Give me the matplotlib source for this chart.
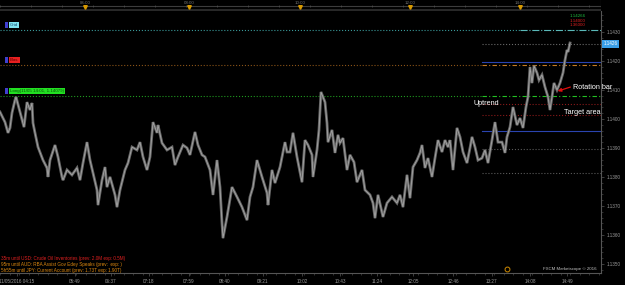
import matplotlib.pyplot as plt
from matplotlib.ticker import MultipleLocator, FormatStrFormatter

plt.rcParams['font.family'] = ['Liberation Sans', 'DejaVu Sans']

# price path (bar index, price)
bars = [0, 3, 5, 8, 10, 12, 15, 16, 20, 24, 27, 30, 32, 33, 35, 38, 43, 47, 48, 50,
        55, 58, 62, 63, 67, 72, 77, 80, 83, 87, 90, 93, 97, 98, 102, 105, 107, 110, 115, 117,
        120, 125, 128, 132, 137, 140, 143, 147, 150, 153, 157, 158, 162, 167, 172, 175, 178, 183, 187, 190,
        195, 198, 202, 205, 210, 213, 217, 220, 222, 223, 227, 232, 237, 242, 247, 250, 253, 257, 262, 267,
        268, 272, 275, 280, 285, 287, 290, 293, 297, 302, 305, 308, 312, 313, 317, 319, 321, 325, 327, 328,
        332, 335, 338, 340, 343, 347, 350, 354, 357, 362, 365, 370, 373, 375, 378, 383, 387, 392, 397, 400,
        403, 407, 410, 413, 417, 420, 422, 425, 428, 432, 435, 438, 442, 445, 448, 450, 453, 457, 460, 463,
        467, 470, 472, 475, 478, 482, 485, 488, 492, 495, 498, 502, 505, 507, 510, 513, 517, 520, 523, 526,
        528, 530, 532, 534, 537, 539, 542, 545, 548, 550, 552, 554, 557, 560, 563, 565, 567, 568, 570]
prices = [1.14024, 1.14003, 1.13989, 1.13952, 1.13969, 1.14021, 1.14065, 1.14076, 1.14024, 1.13972,
          1.14058, 1.14031, 1.14055, 1.13986, 1.13952, 1.13903, 1.13858, 1.13831, 1.13800, 1.13858,
          1.13910, 1.13869, 1.13800, 1.13789, 1.13824, 1.13807, 1.13831, 1.13789, 1.13848, 1.13920,
          1.13858, 1.13814, 1.13755, 1.13703, 1.13789, 1.13834, 1.13765, 1.13800, 1.13738, 1.13696,
          1.13755, 1.13824, 1.13848, 1.13903, 1.13893, 1.13920, 1.13869, 1.13824, 1.13869, 1.13989,
          1.13952, 1.13979, 1.13917, 1.13893, 1.13903, 1.13841, 1.13869, 1.13910, 1.13900, 1.13876,
          1.13955, 1.13910, 1.13876, 1.13869, 1.13824, 1.13738, 1.13858, 1.13765, 1.13641, 1.13589,
          1.13662, 1.13765, 1.13731, 1.13696, 1.13651, 1.13731, 1.13765, 1.13858, 1.13800, 1.13745,
          1.13703, 1.13824, 1.13779, 1.13834, 1.13920, 1.13886, 1.13886, 1.13952, 1.13869, 1.13782,
          1.13927, 1.13910, 1.13876, 1.13800, 1.13893, 1.13962, 1.14093, 1.14058, 1.13986, 1.13920,
          1.13962, 1.13883, 1.13945, 1.13917, 1.13934, 1.13824, 1.13876, 1.13851, 1.13782, 1.13824,
          1.13755, 1.13738, 1.13710, 1.13658, 1.13738, 1.13662, 1.13710, 1.13731, 1.13710, 1.13738,
          1.13696, 1.13807, 1.13727, 1.13834, 1.13858, 1.13883, 1.13910, 1.13831, 1.13865, 1.13800,
          1.13865, 1.13927, 1.13886, 1.13927, 1.13903, 1.13927, 1.13824, 1.13969, 1.13938, 1.13886,
          1.13848, 1.13900, 1.13938, 1.13903, 1.13858, 1.13865, 1.13893, 1.13848, 1.13927, 1.13989,
          1.13920, 1.13920, 1.13883, 1.13938, 1.13972, 1.14041, 1.13979, 1.14003, 1.13969, 1.14041,
          1.14076, 1.14179, 1.14124, 1.14183, 1.14159, 1.14134, 1.14152, 1.14110, 1.14076, 1.14031,
          1.14076, 1.14124, 1.14100, 1.14124, 1.14159, 1.14203, 1.14238, 1.14231, 1.14262]

bottom_ticks = [17, 75, 111, 149, 189, 225, 263, 302, 340, 377, 413, 453, 492, 530, 567]
bottom_labels = ['11/05/2016 04:15', '05:49', '06:37', '07:18', '07:59', '08:40', '09:21', '10:02',
                 '10:43', '11:24', '12:05', '12:46', '13:27', '14:08', '14:49']
top_ticks = [85, 189, 300, 410, 520]
top_labels = ['06:00', '08:00', '10:00', '12:00', '14:00']

# long horizontal levels (full width)
grid_level = 1.14307
bias_level = 1.14186
long_level = 1.14079
# short levels on the right side
right_levels = [1.14259, 1.14196, 1.14052, 1.14014, 1.13958, 1.13896, 1.13814]
right_colors = ['#6a6a6a', '#2a44b0', '#8a1a1a', '#8a1a1a', '#2a44b0', '#5a5a5a', '#5a5a5a']
right_styles = [':', '-', ':', ':', '-', ':', ':']
last_price = 1.14259

news = ['35m until USD: Crude Oil Inventories (prev: 2.0M exp: 0.5M)',
        '95m until AUD: RBA Assist Gov Edey Speaks (prev:  exp: )',
        '5h55m until JPY: Current Account (prev: 1.73T exp: 1.90T)']
news_colors = ['#e02020', '#e08a10', '#e08a10']

fig = plt.figure(figsize=(6.25, 2.85), dpi=100, facecolor='black')
ax = fig.add_axes([0, 12 / 285, 601 / 625, 262 / 285], facecolor='black')
top = fig.add_axes([0, 274 / 285, 601 / 625, 11 / 285], facecolor='black')

ax.set_xlim(0, 601)
ax.set_ylim(1.134686, 1.143724)

# levels
ax.plot([0, 520], [grid_level] * 2, color='#3a9a9a', ls=':', lw=0.8)
ax.plot([520, 601], [grid_level] * 2, color='#5ab8b8', ls='-.', lw=0.8)
ax.plot([0, 482], [bias_level] * 2, color='#8a5418', ls=':', lw=0.8)
ax.plot([482, 601], [bias_level] * 2, color='#c87a20', ls=(0, (4, 2, 1, 2)), lw=0.8)
ax.plot([0, 482], [long_level] * 2, color='#1f9a1f', ls=':', lw=0.8)
ax.plot([482, 601], [long_level] * 2, color='#22c022', ls=(0, (4, 2, 1, 2)), lw=0.8)
for lvl, c, s in zip(right_levels, right_colors, right_styles):
    ax.plot([482, 601], [lvl, lvl], color=c, ls=s, lw=0.8)

# dense tick band: darker wide stroke with a lighter core
ax.plot(bars, prices, color='#666666', lw=2.0, solid_joinstyle='miter')
ax.plot(bars, prices, color='#a6a6a6', lw=0.6)

# level tags
for lvl, txt, fc, tc in [(grid_level, 'Grid', '#7fe3ef', '#1a4a70'),
                         (bias_level, 'Bias', '#e82020', '#5a0000'),
                         (long_level, 'Long(11/05 14:01, 1.14079)', '#22e022', '#0a4a0a')]:
    ax.annotate(txt, xy=(10, lvl), xytext=(0, 3.6), textcoords='offset points',
                fontsize=3.2, color=tc, va='center', ha='left',
                bbox=dict(boxstyle='square,pad=0.25', fc=fc, ec='none'))
    ax.annotate(' ', xy=(6, lvl), xytext=(0, 3.6), textcoords='offset points',
                fontsize=3.2, va='center', ha='left',
                bbox=dict(boxstyle='square,pad=0.25', fc='#4040d0', ec='none'))

# annotations
ax.annotate('', xy=(555, 1.14093), xytext=(573, 1.14113),
            arrowprops=dict(arrowstyle='-|>', color='#e01010', lw=0.9, mutation_scale=5))
ax.text(573, 1.14110, 'Rotation bar', color='white', fontsize=5.2, va='center', ha='left',
        zorder=5)
ax.text(474, 1.14052, 'Uptrend', color='white', fontsize=5.2, va='center', ha='left')
ax.text(564, 1.14021, 'Target area', color='white', fontsize=5.2, va='center', ha='left')

ax.text(570, 1.14355, '1.14266', color='#20c040', fontsize=3.2, va='center')
ax.text(570, 1.14338, '1.14000', color='#e02020', fontsize=3.2, va='center')
ax.text(570, 1.14324, '1.36000', color='#e02020', fontsize=3.2, va='center')

ax.annotate('%.4f' % last_price, xy=(1, last_price), xycoords=('axes fraction', 'data'),
            xytext=(2, 0), textcoords='offset points', fontsize=3.3, color='white',
            va='center', ha='left', annotation_clip=False,
            bbox=dict(boxstyle='square,pad=0.3', fc='#3a9fe8', ec='none'))

for i, (t, c) in enumerate(zip(news, news_colors)):
    ax.text(0.002, 0.057 - i * 0.023, t, transform=ax.transAxes, color=c,
            fontsize=3.3, va='center', ha='left')
ax.text(597, 1.13482, 'FXCM Marketscope \u00a9 2016', color='#c0c0c0', fontsize=3.2,
        va='center', ha='right')
ax.plot([507], [1.13482], marker='o', ms=3.5, mfc='none', mec='#d08a00', mew=0.7)

# axes styling
for s in ['left', 'top']:
    ax.spines[s].set_visible(False)
ax.spines['right'].set_color('#555555')
ax.spines['bottom'].set_color('#555555')
ax.spines['right'].set_linewidth(0.8)
ax.spines['bottom'].set_linewidth(0.8)
ax.yaxis.tick_right()
ax.yaxis.set_major_locator(MultipleLocator(0.001))
ax.yaxis.set_minor_locator(MultipleLocator(0.0002))
ax.yaxis.set_major_formatter(FormatStrFormatter('%.4f'))
ax.set_xticks(bottom_ticks)
ax.set_xticklabels(bottom_labels)
ax.xaxis.set_minor_locator(MultipleLocator(9.5))
ax.tick_params(axis='both', which='major', labelsize=3.3, colors='#555555',
               labelcolor='#9a9a9a', length=2.5, width=0.5, pad=1.5)
ax.tick_params(axis='both', which='minor', colors='#555555', length=1.3, width=0.4)

# top time bar
top.set_xlim(0, 601)
top.set_ylim(11, 0)
top.axis('off')
top.axhline(6, color='#3c3c3c', lw=0.8)
top.axhspan(8.6, 10.6, color='#282828', lw=0)
top.vlines(range(0, 601, 31), 5, 7, color='#505050', lw=0.5)
for x, t in zip(top_ticks, top_labels):
    top.text(x, 2.8, t, color='#707070', fontsize=3.2, ha='center', va='center')
top.plot(top_ticks, [7.2] * len(top_ticks), ls='none', marker='v', ms=2.6,
         color='#d89a00')
top.axvline(601, color='#555555', lw=0.8)

fig.savefig('out.png', dpi=100, facecolor='black')
